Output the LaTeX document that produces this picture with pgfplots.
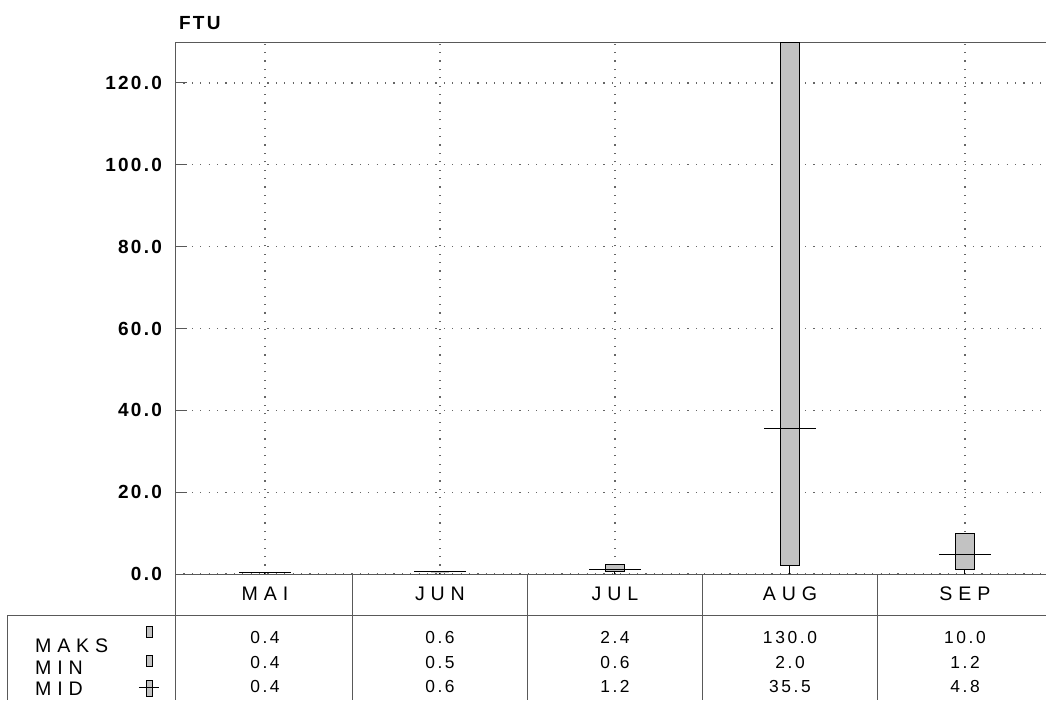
\documentclass[border=0pt]{standalone}
\usepackage{pgfplots}
\pgfplotsset{compat=1.18}
\usepackage{pgfplotstable}
\usepgfplotslibrary{statistics}
\usepackage{fontspec}
\setmainfont{Liberation Sans}
\newfontfamily\numfont[LetterSpace=12]{Liberation Sans}
\newfontfamily\valfont[LetterSpace=15]{Liberation Sans}
\newfontfamily\capfont[LetterSpace=30]{Liberation Sans}

\definecolor{boxgray}{gray}{0.76}
\definecolor{linegray}{gray}{0.35}

% turbiditet (FTU) per maaned: maks, min, middel
\pgfplotstableread{
x  name maks   min  mid
0  MAI  0.4    0.4  0.4
1  JUN  0.6    0.5  0.6
2  JUL  2.4    0.6  1.2
3  AUG  130.0  2.0  35.5
4  SEP  10.0   1.2  4.8
}\ftu

\pgfplotsset{
  ftubox/.style={
    boxplot/draw position=#1,
    black, line width=0.5pt,
  },
  fturow/.style={
    draw=none, mark=none, nodes near coords, point meta=explicit,
    nodes near coords={\pgfmathprintnumber[fixed,fixed zerofill,precision=1]{\pgfplotspointmeta}},
    every node near coord/.append style={anchor=center, text=black,
      font=\valfont\fontsize{8.7}{10}\selectfont},
  },
}

\begin{document}
\begin{tikzpicture}
\begin{axis}[
  scale only axis, width=435.5pt, height=266pt,
  xmin=-0.514, xmax=4.463, ymin=0, ymax=130,
  clip=false,
  axis line style={draw=none},
  xtick={0,...,4}, xticklabels={MAI,JUN,JUL,AUG,SEP},
  xtick style={draw=none},
  xticklabel style={font=\capfont\fontsize{9.8}{11}\selectfont, anchor=center, yshift=-10pt},
  ytick={0,20,...,120}, ytick pos=left, tick align=inside,
  major tick length=6pt,
  ytick style={linegray, line width=0.5pt},
  /pgf/number format/assume math mode=true,
  yticklabel={\pgfmathprintnumber[fixed,fixed zerofill,precision=1]{\tick}},
  yticklabel style={font=\numfont\bfseries\fontsize{9.5}{10}\selectfont, xshift=-3pt},
  xmajorgrids, ymajorgrids,
  grid style={black!60, line width=0.55pt, dash pattern=on 0.6pt off 3.6pt},
  boxplot/draw direction=y,
  boxplot/box extend=0.105,
  boxplot/whisker extend=0,
  boxplot/every box/.style={fill=boxgray, draw=black},
  boxplot/draw/median/.code={%
    \draw[/pgfplots/boxplot/every median/.try]
      (boxplot box cs:\pgfplotsboxplotvalue{median},-0.9) --
      (boxplot box cs:\pgfplotsboxplotvalue{median},1.9);
  },
]
% rammer
\draw[linegray, line width=0.5pt] (axis cs:4.463,130) -- (axis cs:-0.514,130) -- (axis cs:-0.514,-30.8);
\draw[linegray, line width=0.5pt] (axis cs:-0.514,0) -- (axis cs:4.463,0);

\pgfplotsinvokeforeach{0,...,4}{
  \pgfplotstablegetelem{#1}{maks}\of\ftu \edef\vmax{\pgfplotsretval}
  \pgfplotstablegetelem{#1}{min}\of\ftu \edef\vmin{\pgfplotsretval}
  \pgfplotstablegetelem{#1}{mid}\of\ftu \edef\vmid{\pgfplotsretval}
  \edef\doplot{\noexpand\addplot[ftubox=#1, boxplot prepared={lower whisker=0,
    lower quartile=\vmin, median=\vmid, upper quartile=\vmax, upper whisker=\vmax}]
    coordinates {};}
  \doplot
}

% tabell under diagrammet
\draw[linegray, line width=0.5pt] (axis cs:-1.469,-10.02) -- (axis cs:4.463,-10.02);
\draw[linegray, line width=0.5pt] (axis cs:-1.469,-10.02) -- (axis cs:-1.469,-30.8);
\pgfplotsinvokeforeach{0.5,1.5,2.5,3.5}{
  \draw[linegray, line width=0.5pt] (axis cs:#1,0) -- (axis cs:#1,-30.8);
}

\addplot[fturow] table[x=x, y expr=-15.4, meta=maks] {\ftu};
\addplot[fturow] table[x=x, y expr=-21.5, meta=min] {\ftu};
\addplot[fturow] table[x=x, y expr=-27.4, meta=mid] {\ftu};

\node[anchor=west, font=\capfont\fontsize{9.8}{11}\selectfont] at (axis cs:-1.354,-17.6) {MAKS};
\node[anchor=west, font=\capfont\fontsize{9.8}{11}\selectfont] at (axis cs:-1.354,-23.0) {MIN};
\node[anchor=west, font=\capfont\fontsize{9.8}{11}\selectfont] at (axis cs:-1.354,-28.1) {MID};

\node[draw=black, fill=boxgray, line width=0.4pt, inner sep=0pt, minimum width=3pt, minimum height=5.5pt] at (axis cs:-0.663,-14.2) {};
\node[draw=black, fill=boxgray, line width=0.4pt, inner sep=0pt, minimum width=3pt, minimum height=5.5pt] at (axis cs:-0.663,-21.3) {};
\node[draw=black, fill=boxgray, line width=0.4pt, inner sep=0pt, minimum width=3pt, minimum height=8pt] at (axis cs:-0.663,-27.9) {};
\draw[black, line width=0.4pt] (axis cs:-0.72,-27.6) -- (axis cs:-0.606,-27.6);

\node[anchor=west, font=\numfont\bfseries\fontsize{9.5}{10}\selectfont] at (axis cs:-0.531,134.6) {FTU};

\coordinate (pbl) at (axis cs:-1.514,-30.79);
\coordinate (ptr) at (axis cs:4.463,140.27);
\end{axis}
\pgfresetboundingbox
\path[use as bounding box] (pbl) rectangle (ptr);
\end{tikzpicture}
\end{document}
